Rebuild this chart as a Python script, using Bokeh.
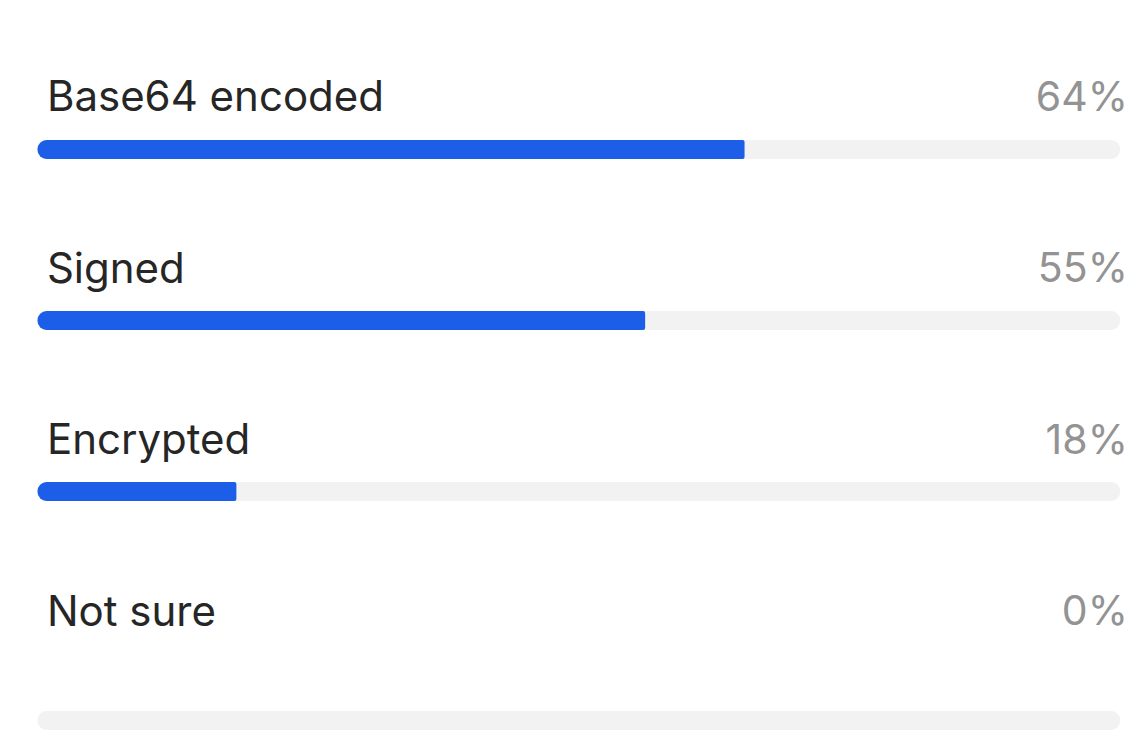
from bokeh.plotting import figure
from bokeh.models import Range1d, ColumnDataSource
from bokeh.core.properties import value
from bokeh.embed import file_html
from bokeh.resources import INLINE

# ---- data ----
categories = ["Base64 encoded", "Signed", "Encrypted", "Not sure"]
percentages = [64, 55, 18, 0]
pct_labels = ["64%", "55%", "18%", "0%"]

# ---- layout (screen-like vertical coordinates) ----
W, H = 1141, 737
label_baseline = [95 + 171.5 * i for i in range(4)]
bar_center = [149, 320, 491, 720]
bar_px = 19
track_end = 98

p = figure(width=W, height=H, output_backend="svg", toolbar_location=None,
           x_range=Range1d(-3.35, 99.93), y_range=Range1d(H, 0),
           min_border=0, min_border_left=0, min_border_right=0,
           min_border_top=0, min_border_bottom=0)
p.axis.visible = False
p.grid.visible = False
p.outline_line_color = None
p.background_fill_color = "white"
p.border_fill_color = "white"

src = ColumnDataSource(dict(cat=categories, val=percentages, lab=pct_labels,
                            yb=label_baseline, yc=bar_center,
                            zero=[0] * 4, full=[track_end] * 4))

p.hbar(y="yc", left="zero", right="full", height=bar_px, source=src,
       fill_color="#f2f2f2", line_color=None, border_radius=9)
p.hbar(y="yc", left="zero", right="val", height=bar_px, source=src,
       fill_color="#1c5ee8", line_color=None, border_radius=[9, 2, 2, 9])

p.text(x=0.85, y="yb", text="cat", source=src, text_font=value("Inter"),
       text_font_size="42px", text_color="#262626", text_baseline="alphabetic",
       text_align="left")
p.text(x=98.7, y="yb", text="lab", source=src, text_font=value("Inter"),
       text_font_size="41px", text_color="#939393", text_baseline="alphabetic",
       text_align="right")

open("out.html", "w").write(file_html(p, INLINE))
